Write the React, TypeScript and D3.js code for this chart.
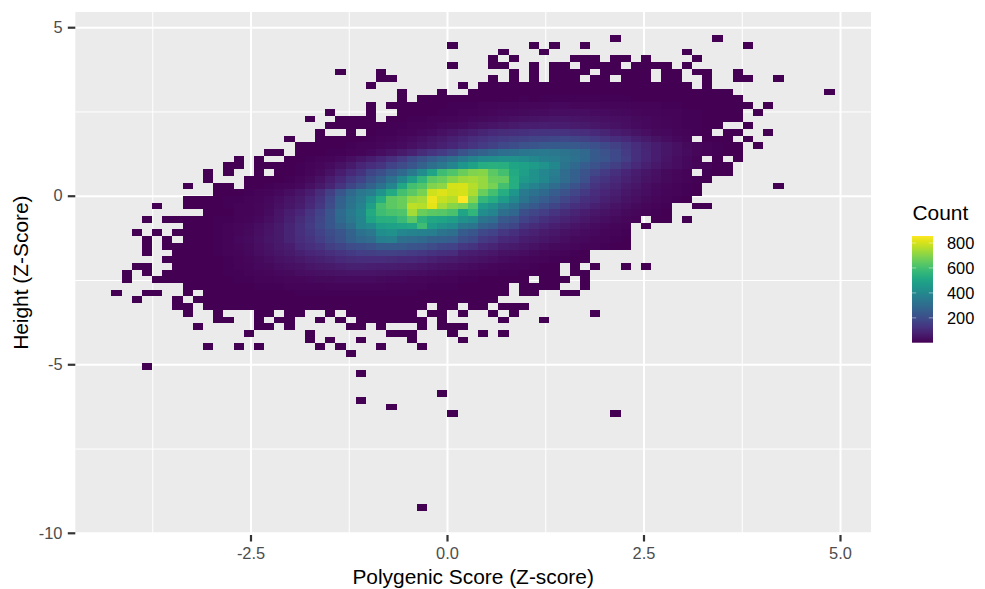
import React, { useEffect, useRef } from 'react';
import * as d3 from 'd3';

// 2D histogram: each cell
const xFirstEdge = -4.277;
const xBinWidth = 0.1296;
const yTopEdge = 4.78;
const yBinHeight = 0.1988;
const maxCount = 856;

const xMajorTicks = [-2.5, 0, 2.5, 5];
const xMinorTicks = [-3.75, -1.25, 1.25, 3.75];
const yMajorTicks = [5, 0, -5, -10];
const yMinorTicks = [2.5, -2.5, -7.5];
const legendTicks = [200, 400, 600, 800];

// thin rows and stray cells: [row, columns], all of them very low counts
const strayCells: [number, number[]][] = [
  [0, [49, 59]],
  [1, [33, 41, 43, 46, 62]],
  [2, [38, 42, 56]],
  [3, [37, 39, 45, 46, 47, 49, 50, 52, 57]],
  [4, [33, 37, 38, 41, 43, 44, 46, 47, 48, 49, 51, 52, 53, 54, 56]],
  [5, [22, 26, 39, 41, 43, 44, 45, 46, 48, 49, 50, 51, 52, 54, 55, 57, 58, 61]],
  [6, [26, 27, 37, 39, 41, 43, 44, 45, 47, 48, 50, 51, 52, 54, 55, 58, 61, 62, 65]],
  [8, [70]],
  [41, [7, 10, 14, 15, 17, 18, 21, 23, 24, 25, 26, 27, 28, 29, 31, 32, 34, 37, 39, 47]],
  [42, [10, 11, 14, 16, 17, 20, 22, 24, 25, 26, 27, 28, 29, 30, 32, 38, 42]],
  [43, [8, 14, 15, 17, 23, 24, 26, 30, 32, 33, 34]],
  [44, [13, 19, 27, 28, 29, 33, 36, 38]],
  [45, [19, 21, 24, 29, 34]],
  [46, [9, 12, 14, 20, 22, 26, 30]],
  [47, [23]],
  [49, [3]],
  [50, [24]],
  [53, [32]],
  [54, [24]],
  [55, [27]],
  [56, [33, 49]],
  [70, [30]],
];

// rows 7 to 40: first column of each row, then its counts (0 = empty cell)
const firstRow = 7;
const rowStarts = [25, 28, 28, 25, 21, 19, 21, 20, 17, 18, 15, 12, 11, 9, 9, 7, 10, 7, 4, 9, 3, 7, 2, 3, 3, 3, 5, 2, 1, 1, 7, 0, 2, 6];
const rowCounts: number[][] = [
  [1, 0, 0, 0, 0, 0, 0, 0, 0, 1, 0, 1, 1, 2, 1, 1, 2, 1, 2, 2, 1, 2, 1, 2, 2, 1, 2, 1, 1, 1, 1, 1, 0, 1],
  [1, 0, 0, 0, 1, 0, 0, 1, 2, 2, 2, 3, 2, 3, 3, 2, 3, 4, 3, 3, 3, 3, 3, 2, 3, 2, 2, 2, 1, 2, 1, 1, 1],
  [1, 0, 1, 1, 1, 1, 2, 2, 3, 3, 4, 4, 5, 4, 5, 5, 6, 5, 6, 6, 6, 5, 5, 4, 4, 4, 3, 3, 2, 2, 2, 1, 1, 1],
  [1, 0, 1, 1, 2, 2, 3, 4, 5, 6, 7, 9, 11, 12, 13, 15, 16, 17, 18, 18, 17, 16, 15, 14, 13, 12, 10, 9, 8, 6, 5, 4, 3, 3, 2, 1, 1, 1, 0, 1],
  [1, 0, 0, 0, 1, 0, 0, 2, 3, 3, 4, 6, 7, 9, 11, 13, 16, 18, 21, 24, 26, 27, 29, 30, 30, 28, 26, 25, 22, 20, 17, 14, 12, 10, 8, 6, 5, 4, 3, 2, 1, 0, 1],
  [1, 0, 0, 1, 1, 1, 2, 0, 3, 3, 5, 6, 8, 10, 13, 15, 18, 22, 26, 31, 35, 40, 43, 46, 48, 48, 46, 43, 40, 36, 32, 28, 24, 20, 16, 12, 9, 7, 5, 4, 3, 2, 1],
  [1, 1, 2, 3, 3, 4, 5, 7, 9, 11, 14, 18, 22, 27, 33, 39, 46, 52, 59, 65, 70, 72, 71, 68, 64, 59, 53, 46, 39, 32, 26, 21, 16, 12, 9, 7, 5, 3, 2, 0, 0, 1],
  [1, 0, 0, 1, 0, 3, 5, 7, 10, 14, 18, 25, 35, 45, 60, 72, 85, 95, 105, 112, 118, 122, 125, 125, 122, 118, 110, 100, 85, 70, 55, 42, 32, 24, 18, 13, 9, 6, 4, 0, 1, 1, 0, 0, 1],
  [1, 0, 0, 1, 1, 2, 2, 3, 5, 8, 12, 18, 26, 35, 48, 60, 75, 92, 110, 122, 135, 148, 158, 165, 172, 178, 182, 185, 178, 165, 150, 130, 112, 95, 75, 60, 42, 30, 20, 12, 0, 4, 3, 2, 0, 1],
  [1, 1, 2, 3, 4, 6, 8, 11, 15, 20, 27, 36, 48, 60, 75, 92, 110, 130, 150, 165, 185, 200, 215, 225, 235, 240, 240, 235, 225, 210, 190, 165, 135, 110, 85, 65, 48, 35, 24, 16, 10, 6, 3, 2, 0, 1],
  [1, 1, 0, 2, 3, 4, 5, 7, 9, 14, 20, 30, 42, 60, 80, 105, 130, 150, 175, 220, 245, 265, 290, 305, 320, 335, 345, 350, 340, 325, 310, 285, 240, 215, 185, 150, 120, 92, 70, 50, 35, 25, 16, 10, 6, 3, 2],
  [1, 0, 1, 0, 0, 2, 3, 5, 8, 12, 20, 32, 50, 70, 90, 115, 150, 190, 220, 250, 280, 310, 350, 385, 410, 420, 430, 430, 420, 400, 375, 360, 340, 320, 290, 240, 225, 190, 155, 120, 90, 65, 45, 30, 18, 10, 0, 3, 0, 1],
  [1, 1, 0, 1, 1, 2, 3, 5, 9, 15, 25, 40, 60, 90, 110, 130, 170, 195, 225, 270, 310, 345, 390, 450, 490, 530, 545, 540, 500, 490, 470, 440, 400, 330, 290, 250, 215, 190, 160, 130, 100, 75, 55, 40, 28, 20, 13, 8, 4, 2],
  [1, 0, 1, 0, 0, 1, 0, 2, 4, 7, 12, 22, 40, 65, 95, 125, 175, 205, 250, 290, 350, 420, 500, 590, 620, 660, 690, 700, 640, 600, 520, 480, 430, 395, 360, 300, 260, 220, 180, 150, 120, 90, 70, 50, 35, 24, 16, 10, 0, 6, 4, 2],
  [1, 0, 0, 0, 1, 2, 3, 4, 7, 12, 22, 40, 65, 100, 140, 170, 220, 260, 320, 400, 480, 560, 640, 660, 700, 730, 740, 720, 660, 650, 530, 460, 430, 400, 350, 300, 255, 210, 150, 125, 100, 78, 60, 44, 32, 22, 15, 10, 6, 3],
  [1, 0, 0, 1, 1, 0, 2, 3, 5, 8, 13, 20, 35, 55, 85, 130, 175, 220, 270, 320, 390, 510, 600, 625, 695, 710, 800, 805, 760, 720, 680, 600, 530, 420, 380, 345, 300, 260, 215, 175, 130, 105, 85, 62, 48, 34, 24, 16, 10, 6, 3, 0, 0, 0, 0, 0, 0, 0, 1],
  [1, 2, 3, 5, 8, 12, 20, 30, 45, 70, 105, 160, 225, 285, 340, 360, 440, 520, 600, 640, 680, 790, 810, 790, 800, 750, 660, 600, 530, 450, 350, 320, 290, 250, 215, 180, 145, 110, 90, 72, 54, 40, 28, 20, 13, 8, 5, 3],
  [1, 2, 3, 4, 5, 7, 9, 13, 20, 30, 45, 60, 90, 125, 185, 260, 320, 360, 440, 530, 640, 660, 720, 740, 830, 780, 760, 856, 700, 570, 530, 470, 400, 330, 280, 250, 215, 180, 150, 120, 95, 76, 58, 44, 32, 22, 15, 10, 6, 3],
  [1, 0, 0, 1, 2, 3, 4, 6, 8, 10, 15, 22, 35, 50, 70, 100, 135, 195, 270, 325, 380, 480, 600, 640, 660, 770, 760, 820, 740, 700, 680, 620, 470, 430, 370, 330, 265, 235, 205, 175, 145, 120, 95, 75, 58, 44, 32, 22, 15, 9, 5, 0, 0, 1, 1],
  [1, 2, 4, 8, 10, 16, 25, 45, 65, 90, 130, 170, 225, 295, 350, 400, 520, 590, 610, 620, 740, 660, 640, 630, 610, 500, 560, 420, 390, 310, 280, 205, 180, 155, 130, 105, 85, 68, 54, 42, 32, 23, 16, 10, 6, 3],
  [1, 0, 1, 1, 2, 2, 3, 5, 7, 10, 13, 20, 32, 50, 75, 105, 140, 180, 230, 290, 340, 390, 500, 540, 545, 580, 640, 550, 510, 500, 480, 430, 410, 330, 305, 235, 215, 170, 145, 120, 100, 82, 65, 52, 40, 30, 22, 15, 9, 0, 4, 2, 0, 1],
  [1, 2, 3, 5, 8, 15, 20, 30, 42, 60, 85, 120, 150, 185, 230, 265, 310, 390, 410, 475, 490, 500, 510, 590, 470, 430, 410, 345, 330, 265, 245, 195, 175, 125, 105, 88, 72, 58, 45, 35, 27, 20, 13, 8, 0, 1],
  [1, 0, 1, 0, 1, 1, 2, 4, 6, 9, 15, 22, 32, 45, 60, 85, 115, 140, 170, 200, 225, 265, 320, 340, 420, 430, 395, 385, 375, 365, 325, 310, 245, 230, 185, 170, 135, 120, 92, 78, 64, 52, 41, 32, 25, 19, 14, 9, 5],
  [1, 0, 1, 0, 1, 2, 3, 6, 10, 18, 25, 35, 48, 60, 85, 110, 130, 155, 190, 215, 260, 285, 300, 365, 370, 310, 300, 290, 270, 260, 250, 205, 190, 145, 130, 100, 90, 70, 60, 48, 38, 30, 24, 18, 14, 10, 7, 4],
  [1, 0, 1, 1, 1, 2, 3, 5, 9, 15, 22, 32, 42, 55, 70, 95, 115, 130, 160, 175, 195, 205, 215, 240, 240, 235, 225, 215, 195, 175, 170, 135, 125, 95, 85, 65, 58, 48, 38, 30, 24, 19, 15, 11, 8, 6, 4, 2],
  [1, 0, 0, 1, 1, 2, 3, 5, 8, 14, 20, 28, 38, 50, 60, 75, 90, 100, 115, 130, 145, 155, 160, 165, 165, 160, 150, 135, 125, 120, 110, 75, 70, 60, 52, 40, 35, 28, 22, 17, 13, 9, 6, 3],
  [1, 1, 1, 2, 3, 4, 7, 11, 16, 22, 30, 38, 45, 55, 65, 75, 85, 95, 105, 110, 110, 110, 105, 100, 95, 90, 80, 70, 62, 52, 45, 38, 32, 25, 20, 16, 13, 9, 7, 5, 3, 2],
  [1, 1, 0, 0, 1, 1, 2, 3, 4, 6, 10, 14, 19, 24, 30, 35, 40, 48, 55, 60, 68, 75, 75, 72, 70, 68, 64, 58, 52, 46, 40, 35, 30, 25, 20, 16, 13, 10, 8, 6, 4, 2, 0, 1, 0, 1, 0, 0, 1, 0, 1],
  [1, 0, 1, 0, 1, 1, 1, 2, 3, 3, 5, 7, 10, 13, 17, 20, 24, 28, 32, 36, 40, 44, 46, 46, 45, 42, 40, 37, 33, 29, 26, 22, 19, 16, 13, 10, 8, 6, 5, 4, 3, 2, 1, 0, 1, 1],
  [1, 0, 0, 1, 1, 1, 1, 1, 2, 2, 3, 5, 6, 8, 10, 12, 15, 17, 19, 22, 24, 26, 27, 26, 25, 23, 21, 19, 17, 15, 12, 10, 8, 7, 5, 4, 3, 2, 2, 1, 0, 1, 1, 1, 0, 1],
  [1, 1, 1, 2, 2, 3, 4, 5, 6, 7, 8, 9, 10, 11, 12, 13, 14, 14, 13, 12, 11, 10, 9, 8, 7, 6, 5, 4, 3, 2, 2, 1, 0, 1, 1, 1, 1, 0, 0, 1],
  [1, 0, 0, 1, 1, 0, 0, 1, 0, 1, 1, 1, 2, 2, 3, 3, 4, 4, 5, 5, 6, 6, 7, 7, 7, 7, 6, 6, 5, 5, 4, 4, 3, 3, 2, 2, 2, 1, 1, 0, 1, 1, 0, 0, 1, 1],
  [1, 0, 0, 0, 1, 0, 1, 1, 1, 1, 1, 1, 2, 2, 2, 3, 3, 3, 3, 4, 4, 4, 4, 3, 3, 3, 3, 2, 2, 2, 2, 1, 1, 1, 1, 1],
  [1, 1, 0, 1, 1, 1, 1, 1, 1, 1, 1, 2, 2, 2, 2, 2, 2, 2, 2, 2, 2, 1, 1, 1, 1, 0, 1, 1, 0, 1, 1, 0, 1, 1, 1],
];

const Chart = () => {
  const svgRef = useRef<SVGSVGElement>(null);

  useEffect(() => {
    const svg = d3.select(svgRef.current);
    svg.selectAll('*').remove();

    const font = '"Liberation Sans", Arial, sans-serif';
    const x = d3.scaleLinear().domain([-2.5, 5]).range([251, 840.5]);
    const y = d3.scaleLinear().domain([5, -10]).range([27.7, 533.3]);
    const fill = d3.scaleSequential(d3.interpolateViridis).domain([1, maxCount]);

    const panelLeft = 75.3;
    const panelRight = 871;
    const panelTop = 12;
    const panelBottom = y(-10);

    svg.append('rect')
      .attr('x', panelLeft)
      .attr('y', panelTop)
      .attr('width', panelRight - panelLeft)
      .attr('height', panelBottom - panelTop)
      .attr('fill', '#ebebeb');

    // grid
    const vLines = (ticks: number[], w: number) => svg.append('g').selectAll('line').data(ticks).join('line')
      .attr('x1', d => x(d)).attr('x2', d => x(d))
      .attr('y1', panelTop).attr('y2', panelBottom)
      .attr('stroke', '#fff').attr('stroke-width', w);
    const hLines = (ticks: number[], w: number) => svg.append('g').selectAll('line').data(ticks).join('line')
      .attr('y1', d => y(d)).attr('y2', d => y(d))
      .attr('x1', panelLeft).attr('x2', panelRight)
      .attr('stroke', '#fff').attr('stroke-width', w);
    vLines(xMinorTicks, 1);
    hLines(yMinorTicks, 1);
    vLines(xMajorTicks, 2);
    hLines(yMajorTicks, 2);

    // flatten the rows to cells
    const cells: { row: number; col: number; count: number }[] = [];
    strayCells.forEach(([row, cols]) => cols.forEach(col => cells.push({ row, col, count: 1 })));
    rowCounts.forEach((vals, i) => vals.forEach((count, j) => {
      if (count > 0) cells.push({ row: firstRow + i, col: rowStarts[i] + j, count });
    }));

    const xEdge = (col: number) => xFirstEdge + col * xBinWidth;
    const yEdge = (row: number) => yTopEdge - row * yBinHeight;

    svg.append('g')
      .attr('shape-rendering', 'crispEdges')
      .selectAll('rect')
      .data(cells)
      .join('rect')
      .attr('x', d => x(xEdge(d.col)))
      .attr('y', d => y(yEdge(d.row)))
      .attr('width', d => x(xEdge(d.col + 1)) - x(xEdge(d.col)))
      .attr('height', d => y(yEdge(d.row + 1)) - y(yEdge(d.row)))
      .attr('fill', d => fill(d.count));

    // axes
    const xAxis = d3.axisBottom(x).tickValues(xMajorTicks).tickSize(6.5).tickPadding(6).offset(0)
      .tickFormat(d => (d as number).toFixed(1));
    const yAxis = d3.axisLeft(y).tickValues(yMajorTicks).tickSize(7.5).tickPadding(5.3).offset(0)
      .tickFormat(d => String(d));

    const styleAxis = (g: any) => {
      g.select('.domain').remove();
      g.selectAll('line').attr('stroke', '#333').attr('stroke-width', 2.2);
      g.selectAll('text').attr('fill', '#4d4d4d').attr('font-size', 16.4).attr('font-family', font);
    };
    svg.append('g').attr('transform', 'translate(0,535)').call(xAxis).call(styleAxis);
    svg.append('g').attr('transform', `translate(${panelLeft},0)`).call(yAxis).call(styleAxis);

    svg.append('text')
      .attr('x', (panelLeft + panelRight) / 2)
      .attr('y', 584)
      .attr('text-anchor', 'middle')
      .attr('font-family', font)
      .attr('font-size', 20.9)
      .attr('fill', '#000')
      .text('Polygenic Score (Z-score)');

    svg.append('text')
      .attr('transform', `translate(28,${(panelTop + panelBottom) / 2}) rotate(-90)`)
      .attr('text-anchor', 'middle')
      .attr('font-family', font)
      .attr('font-size', 20.9)
      .attr('fill', '#000')
      .text('Height (Z-Score)');

    // colour bar legend
    const legendScale = d3.scaleLinear().domain([1, maxCount]).range([342.7, 236]);
    const grad = svg.append('defs').append('linearGradient')
      .attr('id', 'countGrad')
      .attr('x1', 0).attr('x2', 0).attr('y1', 1).attr('y2', 0);
    d3.range(0, 1.0001, 0.05).forEach(t => {
      grad.append('stop').attr('offset', t).attr('stop-color', d3.interpolateViridis(t));
    });
    svg.append('rect')
      .attr('x', 912).attr('y', 236).attr('width', 21).attr('height', 106.7)
      .attr('fill', 'url(#countGrad)');

    const legendG = svg.append('g');
    legendTicks.forEach(t => {
      legendG.append('line').attr('x1', 912).attr('x2', 916.2)
        .attr('y1', legendScale(t)).attr('y2', legendScale(t))
        .attr('stroke', '#fff').attr('stroke-width', 0.8).attr('stroke-opacity', 0.55);
      legendG.append('line').attr('x1', 928.8).attr('x2', 933)
        .attr('y1', legendScale(t)).attr('y2', legendScale(t))
        .attr('stroke', '#fff').attr('stroke-width', 0.8).attr('stroke-opacity', 0.55);
      legendG.append('text')
        .attr('x', 947)
        .attr('y', legendScale(t))
        .attr('dy', '0.36em')
        .attr('font-family', font)
        .attr('font-size', 16.4)
        .attr('fill', '#000')
        .text(t);
    });

    svg.append('text')
      .attr('x', 912.5)
      .attr('y', 220)
      .attr('font-family', font)
      .attr('font-size', 20.9)
      .attr('fill', '#000')
      .text('Count');
  }, []);

  return <svg ref={svgRef} width={985} height={589} style={{ position: 'absolute', left: 0, top: 0, background: '#fff' }} />;
};

export default Chart;
